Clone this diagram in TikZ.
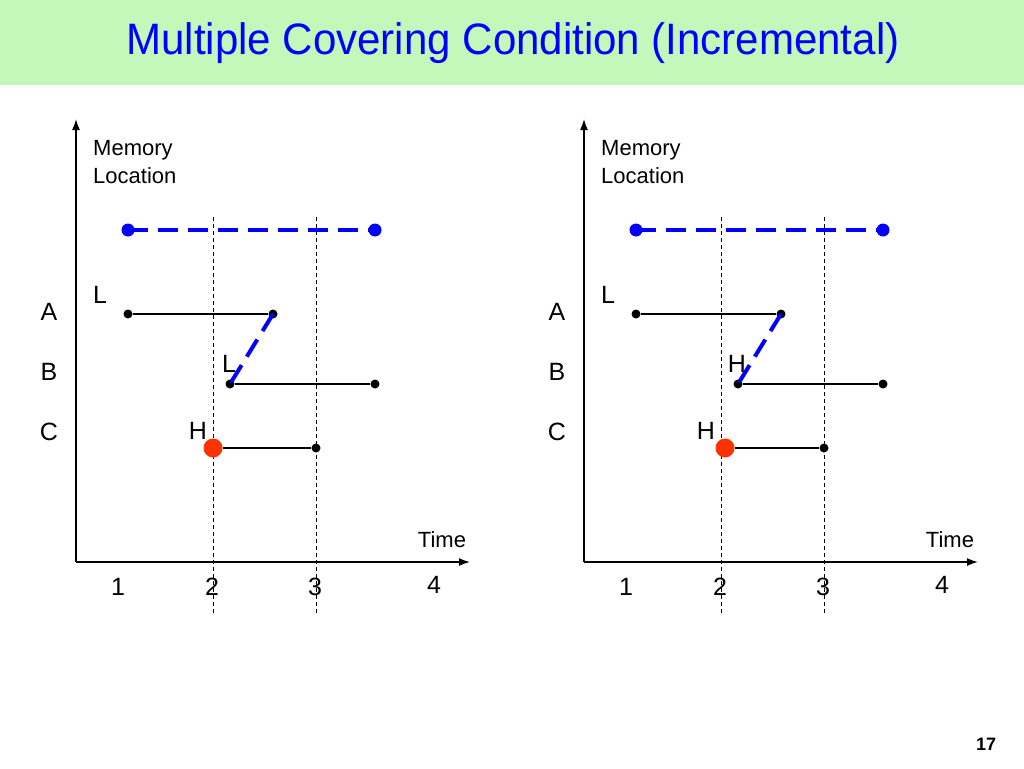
\documentclass[tikz,border=0pt]{standalone}
\usepackage{fontspec}
\setmainfont{Liberation Sans}
\newfontfamily\titlefont[FakeStretch=0.955]{Liberation Sans}
\usetikzlibrary{arrows.meta}
\definecolor{bandgreen}{RGB}{196,247,186}
\definecolor{dotred}{RGB}{255,51,0}
\begin{document}
\begin{tikzpicture}[x=1pt,y=-1pt,
  axis/.style={line width=1.5pt,-{Latex[length=11pt,width=8pt]}},
  guide/.style={line width=0.9pt,dash pattern=on 4pt off 3pt},
  seg/.style={line width=1.2pt},
  bdash/.style={blue,line width=4pt,dash pattern=on 20pt off 10pt},
  bdot/.style={circle,fill=blue,inner sep=0pt,minimum size=13pt},
  kdot/.style={circle,fill=black,inner sep=0pt,minimum size=9pt},
  rdot/.style={circle,fill=dotred,inner sep=0pt,minimum size=19pt},
  lbl/.style={font=\fontsize{25}{29}\selectfont,inner sep=0pt},
  sml/.style={font=\fontsize{22}{26}\selectfont,inner sep=0pt}]
\useasboundingbox (0,0) rectangle (1024,768);
\fill[bandgreen] (0,0) rectangle (1024,85);
\node[font=\titlefont\fontsize{44}{50}\selectfont, text=blue, inner sep=0pt, anchor=base] (title) at (513,54.5) {Multiple Covering Condition (Incremental)};
\foreach \p/\dx/\rx/\lb in {l/0/213/L, r/508/217/H}{
\begin{scope}[xshift=\dx]
  % axes
  \coordinate (o\p) at (76,562);
  \coordinate (yt\p) at (76,119);
  \coordinate (xt\p) at (470,562);
  \draw[axis] (o\p) -- (yt\p);
  \draw[axis] (o\p) -- (xt\p);
  % guides
  \coordinate (g2t\p) at (213,217);
  \coordinate (g2b\p) at (213,613);
  \coordinate (g3t\p) at (316,217);
  \coordinate (g3b\p) at (316,613);
  \draw[guide] (g2t\p) -- (g2b\p);
  \draw[guide] (g3t\p) -- (g3b\p);
  % labels
  \node[sml,anchor=base west] (mem\p) at (93,155) {Memory};
  \node[sml,anchor=base west] (loc\p) at (93,183) {Location};
  \node[sml] (time\p) at (442,540) {Time};
  \node[lbl] (rA\p) at (49,312) {A};
  \node[lbl] (rB\p) at (49,372) {B};
  \node[lbl] (rC\p) at (49,432) {C};
  \node[lbl] (n1\p) at (118,587) {1};
  \node[lbl] (n2\p) at (212,587) {2};
  \node[lbl] (n3\p) at (315,587) {3};
  \node[lbl] (n4\p) at (434,585) {4};
  \node[lbl] (lA\p) at (100,295) {L};
  \node[lbl] (lB\p) at (229,364) {\lb};
  \node[lbl] (lC\p) at (198,431) {H};
  % segments
  \node[kdot] (a1\p) at (128,314) {};
  \node[kdot] (a2\p) at (273,314) {};
  \node[kdot] (b1\p) at (230,384) {};
  \node[kdot] (b2\p) at (375,384) {};
  \node[rdot] (c1\p) at (\rx,448) {};
  \node[kdot] (c2\p) at (316,448) {};
  \draw[seg] (a1\p) -- (a2\p);
  \draw[seg] (b1\p) -- (b2\p);
  \draw[seg] (c1\p) -- (c2\p);
  \draw[bdash] (a2\p.center) -- (b1\p.center);
  \node[bdot] (t1\p) at (128,230) {};
  \node[bdot] (t2\p) at (375,230) {};
  \draw[bdash] (t1\p.center) -- (t2\p.center);
\end{scope}
}
\node[font=\bfseries\fontsize{18}{20}\selectfont, inner sep=0pt] (pg) at (986,744) {17};
\end{tikzpicture}
\end{document}
